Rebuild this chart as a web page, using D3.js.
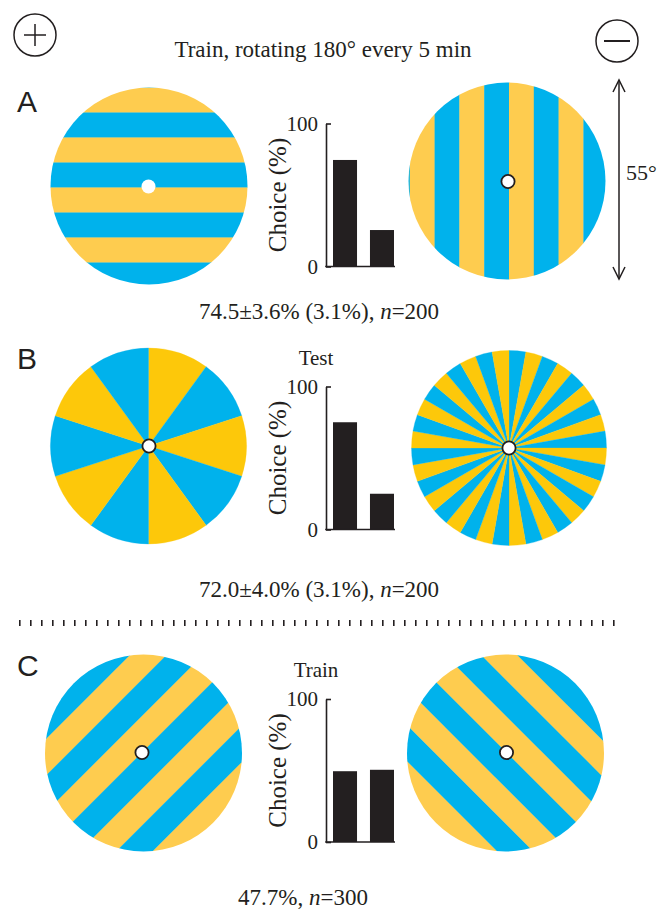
<!DOCTYPE html>
<html>
<head>
<meta charset="utf-8">
<script src="https://cdn.jsdelivr.net/npm/d3@7"></script>
<style>
  body { margin: 0; background: #fff; }
  text { font-family: "Liberation Serif", "Times New Roman", serif; fill: #231f20; }
  text.letter { font-family: "Liberation Sans", Arial, sans-serif; }
</style>
</head>
<body>
<svg id="fig" width="671" height="913"></svg>
<script>
// values
const panelLetters = ["A", "B", "C"];
const panelTitles = ["", "Test", "Train"];
const choiceA = [74.5, 25.5];
const choiceB = [75, 25];
const choiceC = [49.5, 50.5];
const choiceTicks = [0, 100];
const choiceGroups = ["+", "-"];
const statText = ["74.5\u00b13.6% (3.1%), ", "72.0\u00b14.0% (3.1%), ", "47.7%, "];
const statN = [200, 200, 300];
const sectorsB = [10, 36];
const stripeIdx = d3.range(-5, 5);

const blue = "#00b2ec", yellow = "#fecc4f", yellowB = "#fdc80a", ink = "#231f20";

const svg = d3.select("#fig");
const defs = svg.append("defs");

// plus / minus symbols + title
const sym = svg.append("g").attr("stroke", ink).attr("fill", "none").attr("stroke-width", 1.5);
sym.append("circle").attr("cx", 35).attr("cy", 35).attr("r", 21);
sym.append("path").attr("d", "M24,35H46M35,24V46");
sym.append("circle").attr("cx", 617).attr("cy", 41).attr("r", 21);
sym.append("path").attr("d", "M604,41H630").attr("stroke-width", 2);

svg.append("text").attr("x", 323).attr("y", 57).attr("text-anchor", "middle")
  .attr("font-size", 23).text("Train, rotating 180\u00b0 every 5 min");

// 55 deg arrow
const arr = svg.append("g").attr("stroke", ink).attr("fill", "none").attr("stroke-width", 1.5);
arr.append("line").attr("x1", 619).attr("x2", 619).attr("y1", 80).attr("y2", 279);
arr.append("path").attr("d", "M613,92L619,80L625,92M613,267L619,279L625,267");
svg.append("text").attr("x", 626).attr("y", 180).attr("font-size", 22).text("55\u00b0");

function stripedDisc(id, cx, cy, r, ox, oy, angle, w, evenCol, oddCol) {
  defs.append("clipPath").attr("id", id)
    .append("circle").attr("cx", cx).attr("cy", cy).attr("r", r);
  const s = d3.scaleLinear().domain([0, 1]).range([0, w]);
  svg.append("g").attr("clip-path", `url(#${id})`)
    .append("g").attr("transform", `translate(${ox},${oy}) rotate(${angle})`)
    .selectAll("rect").data(stripeIdx).join("rect")
      .attr("x", -160).attr("width", 320)
      .attr("y", d => s(d)).attr("height", s(1) + 0.3)
      .attr("fill", d => Math.abs(d) % 2 === 0 ? evenCol : oddCol);
}

function sectorDisc(cx, cy, r, n, firstCol, otherCol) {
  const pie = d3.pie().sort(null).value(1);
  const arc = d3.arc().innerRadius(0).outerRadius(r);
  svg.append("g").attr("transform", `translate(${cx},${cy})`)
    .selectAll("path").data(pie(d3.range(n))).join("path")
      .attr("d", arc)
      .attr("fill", (d, i) => i % 2 === 0 ? firstCol : otherCol)
      .attr("stroke", (d, i) => i % 2 === 0 ? firstCol : otherCol)
      .attr("stroke-width", 0.3);
}

function dot(x, y, outlined) {
  svg.append("circle").attr("cx", x).attr("cy", y).attr("r", outlined ? 6.6 : 7)
    .attr("fill", "#fff").attr("stroke", outlined ? ink : "none").attr("stroke-width", 1.8);
}

function choiceChart(values, base, title) {
  const g = svg.append("g");
  const x = d3.scaleBand().domain(choiceGroups).range([333, 394]).paddingInner(0.35);
  const y = d3.scaleLinear().domain([0, 100]).range([base, base - 143]);
  g.selectAll("rect").data(values).join("rect")
    .attr("x", (d, i) => x(choiceGroups[i])).attr("width", x.bandwidth())
    .attr("y", d => y(d)).attr("height", d => y(0) - y(d))
    .attr("fill", ink);
  const ax = g.append("g").attr("transform", "translate(326,0)")
    .call(d3.axisLeft(y).tickValues(choiceTicks).tickSizeInner(-5).tickSizeOuter(0).tickPadding(8));
  ax.selectAll("path,line").attr("stroke", ink).attr("stroke-width", 1.6);
  ax.selectAll("text").attr("font-size", 21).attr("fill", ink);
  g.append("line").attr("x1", 325.2).attr("x2", x.range()[1] + 1)
    .attr("y1", y(0)).attr("y2", y(0)).attr("stroke", ink).attr("stroke-width", 1.6);
  g.append("text")
    .attr("transform", `translate(286,${(y(0) + y(100)) / 2}) rotate(-90)`)
    .attr("text-anchor", "middle").attr("font-size", 25).text("Choice (%)");
  if (title) {
    g.append("text").attr("x", 316).attr("y", y(100) - 22).attr("text-anchor", "middle")
      .attr("font-size", 21).text(title);
  }
}

function stat(i, xMid, yBase) {
  const t = svg.append("text").attr("x", xMid).attr("y", yBase)
    .attr("text-anchor", "middle").attr("font-size", 23);
  t.append("tspan").text(statText[i]);
  t.append("tspan").attr("font-style", "italic").text("n");
  t.append("tspan").text("=" + statN[i]);
}

const letterY = [112, 369, 676];
panelLetters.forEach((l, i) => {
  svg.append("text").attr("class", "letter").attr("x", 17).attr("y", letterY[i])
    .attr("font-size", 30).text(l);
});

// panel A
stripedDisc("cA1", 149, 186, 98.5, 149, 187.5, 0, 25, yellow, blue);
dot(148.5, 186.5, false);
stripedDisc("cA2", 507, 181, 98.5, 509, 181, -90, 24.8, yellow, blue);
dot(508, 181.5, true);
choiceChart(choiceA, 266.5, panelTitles[0]);
stat(0, 319, 319);

// panel B
sectorDisc(148.5, 446, 98, sectorsB[0], yellowB, blue);
dot(149, 446, true);
sectorDisc(509, 448, 97.5, sectorsB[1], blue, yellowB);
dot(509, 448, true);
choiceChart(choiceB, 529.5, panelTitles[1]);
stat(1, 319, 597);

// dotted separator
svg.append("line").attr("x1", 19).attr("x2", 620).attr("y1", 623).attr("y2", 623)
  .attr("stroke", ink).attr("stroke-width", 6).attr("stroke-dasharray", "1.6 9.4");

// panel C
stripedDisc("cC1", 143.5, 753, 98.5, 142, 752.5, -45, 25.8, blue, yellow);
dot(142, 752.5, true);
stripedDisc("cC2", 505.5, 753, 98.5, 506.5, 752.5, -135, 25.5, yellow, blue);
dot(506.5, 752.5, true);
choiceChart(choiceC, 842, panelTitles[2]);
stat(2, 303, 905);
</script>
</body>
</html>
